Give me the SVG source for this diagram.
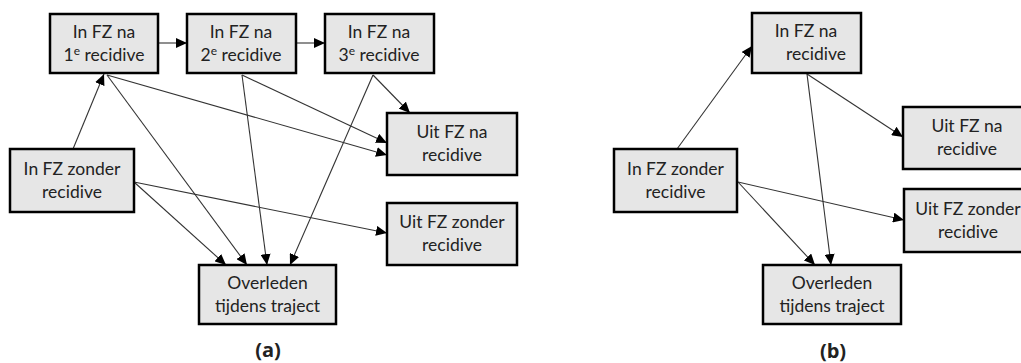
<svg xmlns="http://www.w3.org/2000/svg" width="1021" height="363" viewBox="0 0 1021 363">
<style>
.box{fill:#e6e6e6;stroke:#000;stroke-width:2.5}
.t{font-family:Lato,"Open Sans","Liberation Sans",sans-serif;font-size:17.5px;fill:#222;text-anchor:middle}
.lab{font-family:"Open Sans","Liberation Sans",sans-serif;font-size:20px;font-weight:bold;fill:#222;text-anchor:middle}
.c line{stroke:#333;stroke-width:1.1;marker-end:url(#ah)}
</style>
<defs>
<marker id="ah" markerUnits="userSpaceOnUse" markerWidth="12" markerHeight="10" refX="11" refY="5" orient="auto">
<path d="M0,0 L11,5 L0,10 Z" fill="#000"/>
</marker>
</defs>
<rect width="1021" height="363" fill="#fff"/>
<g class="c" id="connectors">
<line x1="158" y1="43" x2="187" y2="43"/>
<line x1="296" y1="43" x2="325" y2="43"/>
<line x1="73" y1="149" x2="104" y2="74"/>
<line x1="107" y1="75" x2="387" y2="155"/>
<line x1="242" y1="75" x2="387" y2="143"/>
<line x1="107" y1="75" x2="247" y2="265"/>
<line x1="242" y1="75" x2="267" y2="265"/>
<line x1="373" y1="75" x2="290" y2="265"/>
<line x1="373" y1="75" x2="410" y2="113"/>
<line x1="134" y1="182" x2="226" y2="265"/>
<line x1="134" y1="182" x2="387" y2="233"/>
<line x1="677" y1="149" x2="752" y2="46"/>
<line x1="807" y1="74" x2="903" y2="137"/>
<line x1="807" y1="74" x2="831" y2="265"/>
<line x1="738" y1="182" x2="815" y2="265"/>
<line x1="738" y1="182" x2="904" y2="220"/>
</g>
<g id="a-na1"><rect class="box" x="50" y="14" width="108" height="59"/><text class="t" x="104" y="38">In FZ na</text><text class="t" x="104" y="61">1<tspan font-size="12" dy="-6">e</tspan><tspan dy="6"> recidive</tspan></text></g>
<g id="a-na2"><rect class="box" x="187" y="14" width="109" height="59"/><text class="t" x="241" y="38">In FZ na</text><text class="t" x="241" y="61">2<tspan font-size="12" dy="-6">e</tspan><tspan dy="6"> recidive</tspan></text></g>
<g id="a-na3"><rect class="box" x="325" y="14" width="109" height="59"/><text class="t" x="379" y="38">In FZ na</text><text class="t" x="379" y="61">3<tspan font-size="12" dy="-6">e</tspan><tspan dy="6"> recidive</tspan></text></g>
<g id="a-zonder"><rect class="box" x="10" y="149" width="124" height="63"/><text class="t" x="72" y="175">In FZ zonder</text><text class="t" x="72" y="198">recidive</text></g>
<g id="a-uitna"><rect class="box" x="387" y="113" width="130" height="62"/><text class="t" x="452" y="138">Uit FZ na</text><text class="t" x="452" y="161">recidive</text></g>
<g id="a-uitzonder"><rect class="box" x="387" y="203" width="130" height="62"/><text class="t" x="452" y="228">Uit FZ zonder</text><text class="t" x="452" y="251">recidive</text></g>
<g id="a-overleden"><rect class="box" x="199" y="265" width="137" height="59"/><text class="t" x="267.5" y="289">Overleden</text><text class="t" x="267.5" y="312">tijdens traject</text></g>
<g id="b-na"><rect class="box" x="752" y="13" width="109" height="60"/><text class="t" x="806" y="37">In FZ na</text><text class="t" x="816" y="60">recidive</text></g>
<g id="b-zonder"><rect class="box" x="614" y="149" width="123" height="63"/><text class="t" x="675.5" y="175">In FZ zonder</text><text class="t" x="675.5" y="198">recidive</text></g>
<g id="b-uitna"><rect class="box" x="903" y="107" width="130" height="62"/><text class="t" x="967" y="132">Uit FZ na</text><text class="t" x="967" y="155">recidive</text></g>
<g id="b-uitzonder"><rect class="box" x="904" y="189" width="130" height="63"/><text class="t" x="968" y="215">Uit FZ zonder</text><text class="t" x="968" y="238">recidive</text></g>
<g id="b-overleden"><rect class="box" x="763" y="265" width="138" height="59"/><text class="t" x="832" y="289">Overleden</text><text class="t" x="832" y="312">tijdens traject</text></g>
<text class="lab" x="268" y="357">(a)</text>
<text class="lab" x="833" y="358">(b)</text>
</svg>
